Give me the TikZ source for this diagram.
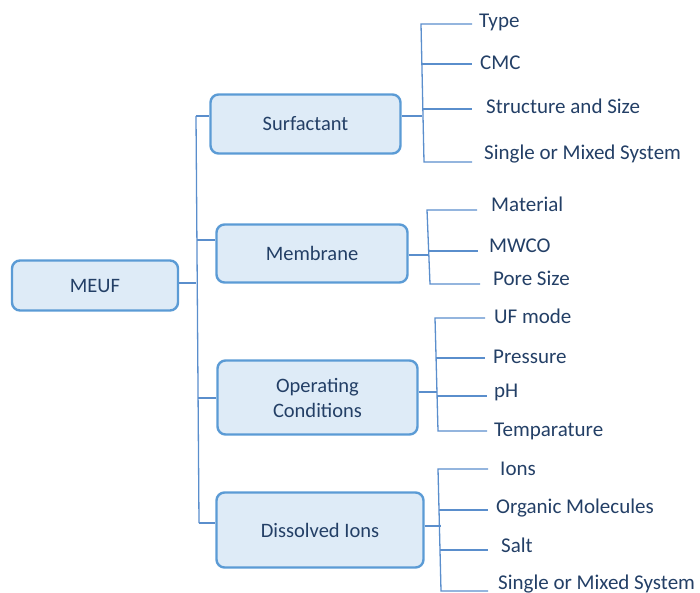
\documentclass[tikz,border=0pt]{standalone}
\usepackage{fontspec}
\setmainfont{Carlito}
\definecolor{boxfill}{HTML}{DEEBF7}
\definecolor{boxline}{HTML}{5B9BD5}
\definecolor{conn}{HTML}{5A8ECC}
\definecolor{txt}{HTML}{233F66}
\begin{document}
\begin{tikzpicture}[x=1pt,y=-1pt,
  box/.style={draw=boxline,fill=boxfill,line width=2.4pt,rounded corners=8pt,text=txt,align=center,font=\fontsize{20.5}{25}\selectfont},
  leaf/.style={anchor=base west,inner sep=0pt,text=txt,font=\fontsize{21}{23}\selectfont},
  con/.style={draw=conn,line width=1.3pt}]
\useasboundingbox (0,0) rectangle (700,593);
% boxes
\node[box,minimum width=166pt,minimum height=50pt] (meuf) at (95,285.5) {MEUF};
\node[box,minimum width=190pt,minimum height=59pt] (surf) at (305.5,124) {Surfactant};
\node[box,minimum width=191pt,minimum height=58pt] (memb) at (312,253.5) {Membrane};
\node[box,minimum width=200pt,minimum height=74pt] (oper) at (317.5,397.5) {Operating\\Conditions};
\node[box,minimum width=207pt,minimum height=75pt] (diss) at (320,530) {Dissolved Ions};
% main trunk
\coordinate (tt) at (196,116);
\coordinate (tm) at (197,240);
\coordinate (tr) at (196,283);
\coordinate (to) at (198,398);
\coordinate (tb) at (199,523);
\draw[con] (tt) -- (tb);
\draw[con] (meuf.east |- tr) -- (tr);
\draw[con] (tt) -- (surf.west |- tt);
\draw[con] (tm) -- (memb.west |- tm);
\draw[con] (to) -- (oper.west |- to);
\draw[con] (tb) -- (diss.west |- tb);
% Surfactant leaves
\node[leaf] (s1) at (479,28) {Type};
\node[leaf] (s2) at (480,70) {CMC};
\node[leaf] (s3) at (486,114) {Structure and Size};
\node[leaf] (s4) at (484,160) {Single or Mixed System};
\coordinate (sa) at (421,24);
\coordinate (sb) at (424,162);
\coordinate (sm) at (422,116);
\draw[con] (surf.east |- sm) -- (sm);
\draw[con] (472,24) -- (sa) -- (sb) -- (472,162);
\draw[con] (422,64) -- (472,64);
\draw[con] (423,109) -- (472,109);
% Membrane leaves
\node[leaf] (m1) at (491,212) {Material};
\node[leaf] (m2) at (489,253) {MWCO};
\node[leaf] (m3) at (493,285) {Pore Size};
\coordinate (ma) at (427,210);
\coordinate (mb) at (430,284);
\coordinate (mm) at (428,255);
\draw[con] (memb.east |- mm) -- (mm);
\draw[con] (477,210) -- (ma) -- (mb) -- (480,284);
\draw[con] (429,251) -- (478,251);
% Operating leaves
\node[leaf] (o1) at (494,323) {UF mode};
\node[leaf] (o2) at (493,363) {Pressure};
\node[leaf] (o3) at (494,397) {pH};
\node[leaf] (o4) at (494,436) {Temparature};
\coordinate (oa) at (435,318);
\coordinate (ob) at (438,431);
\coordinate (om) at (437,392);
\draw[con] (oper.east |- om) -- (om);
\draw[con] (485,318) -- (oa) -- (ob) -- (487,431);
\draw[con] (436,358) -- (485,358);
\draw[con] (437,396) -- (487,396);
% Dissolved leaves
\node[leaf] (d1) at (500,475) {Ions};
\node[leaf] (d2) at (496,513) {Organic Molecules};
\node[leaf] (d3) at (501,552) {Salt};
\node[leaf] (d4) at (498,589) {Single or Mixed System};
\coordinate (da) at (438,469);
\coordinate (db) at (441,591);
\coordinate (dm) at (441,526);
\draw[con] (diss.east |- dm) -- (dm);
\draw[con] (488,469) -- (da) -- (db) -- (488,591);
\draw[con] (439,510) -- (488,510);
\draw[con] (440,550) -- (488,550);
\end{tikzpicture}
\end{document}
